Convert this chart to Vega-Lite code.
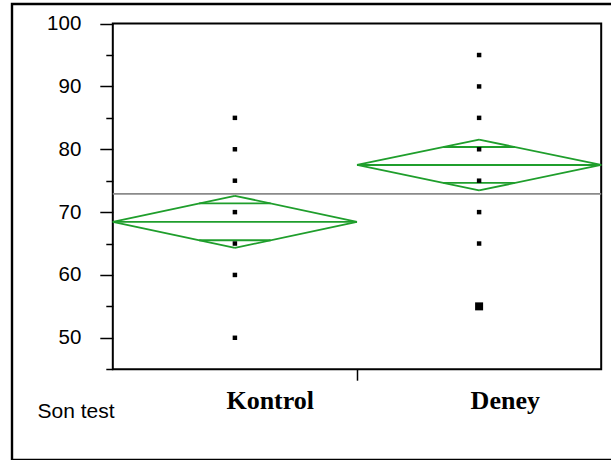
{
  "$schema": "https://vega.github.io/schema/vega-lite/v6.json",
  "width": 603,
  "height": 456,
  "autosize": {"type": "none"},
  "padding": {"left": 12, "top": 4, "right": 0, "bottom": 0},
  "background": "white",
  "config": {
    "view": {"stroke": "black", "strokeWidth": 2.4},
    "axis": {"grid": false, "domain": false}
  },
  "datasets": {
    "obs": [
      {"grup": "Kontrol", "gi": 1, "skor": 85, "n": 1},
      {"grup": "Kontrol", "gi": 1, "skor": 80, "n": 1},
      {"grup": "Kontrol", "gi": 1, "skor": 75, "n": 1},
      {"grup": "Kontrol", "gi": 1, "skor": 70, "n": 1},
      {"grup": "Kontrol", "gi": 1, "skor": 65, "n": 1},
      {"grup": "Kontrol", "gi": 1, "skor": 60, "n": 1},
      {"grup": "Kontrol", "gi": 1, "skor": 50, "n": 1},
      {"grup": "Deney", "gi": 2, "skor": 95, "n": 1},
      {"grup": "Deney", "gi": 2, "skor": 90, "n": 1},
      {"grup": "Deney", "gi": 2, "skor": 85, "n": 1},
      {"grup": "Deney", "gi": 2, "skor": 80, "n": 1},
      {"grup": "Deney", "gi": 2, "skor": 75, "n": 1},
      {"grup": "Deney", "gi": 2, "skor": 70, "n": 1},
      {"grup": "Deney", "gi": 2, "skor": 65, "n": 1},
      {"grup": "Deney", "gi": 2, "skor": 55, "n": 2}
    ],
    "seg": [
      {"grup": "Kontrol", "parca": "sol-ust", "xa": 0.5, "ya": 68.45, "xb": 1.0, "yb": 72.6},
      {"grup": "Kontrol", "parca": "sag-ust", "xa": 1.0, "ya": 72.6, "xb": 1.5, "yb": 68.45},
      {"grup": "Kontrol", "parca": "sag-alt", "xa": 1.5, "ya": 68.45, "xb": 1.0, "yb": 64.3},
      {"grup": "Kontrol", "parca": "sol-alt", "xa": 1.0, "ya": 64.3, "xb": 0.5, "yb": 68.45},
      {"grup": "Kontrol", "parca": "ortalama", "xa": 0.5, "ya": 68.45, "xb": 1.5, "yb": 68.45},
      {"grup": "Kontrol", "parca": "ust-cakisma", "xa": 0.8536, "ya": 71.38, "xb": 1.1464, "yb": 71.38},
      {"grup": "Kontrol", "parca": "alt-cakisma", "xa": 0.8536, "ya": 65.52, "xb": 1.1464, "yb": 65.52},
      {"grup": "Deney", "parca": "sol-ust", "xa": 1.5, "ya": 77.5, "xb": 2.0, "yb": 81.55},
      {"grup": "Deney", "parca": "sag-ust", "xa": 2.0, "ya": 81.55, "xb": 2.5, "yb": 77.5},
      {"grup": "Deney", "parca": "sag-alt", "xa": 2.5, "ya": 77.5, "xb": 2.0, "yb": 73.45},
      {"grup": "Deney", "parca": "sol-alt", "xa": 2.0, "ya": 73.45, "xb": 1.5, "yb": 77.5},
      {"grup": "Deney", "parca": "ortalama", "xa": 1.5, "ya": 77.5, "xb": 2.5, "yb": 77.5},
      {"grup": "Deney", "parca": "ust-cakisma", "xa": 1.8536, "ya": 80.36, "xb": 2.1464, "yb": 80.36},
      {"grup": "Deney", "parca": "alt-cakisma", "xa": 1.8536, "ya": 74.64, "xb": 2.1464, "yb": 74.64}
    ],
    "genel": [{"xa": 0.5, "xb": 2.5, "ya": 72.9}],
    "cerceve": [{"xa": 0.5, "xb": 2.5, "ya": 45, "yb": 100}]
  },
  "layer": [
    {
      "data": {"name": "cerceve"},
      "mark": {"type": "rect", "fill": null, "fillOpacity": 0, "stroke": "black", "strokeWidth": 2},
      "encoding": {
        "x": {
          "field": "xa", "type": "quantitative",
          "scale": {"domain": [0.0872, 2.5565], "nice": false, "zero": false},
          "axis": {
            "values": [1, 1.5, 2],
            "labelExpr": "datum.value == 1 ? 'Kontrol' : (datum.value == 2 ? 'Deney' : '')",
            "tickOpacity": {"condition": {"test": "datum.value == 1.5", "value": 1}, "value": 0},
            "tickSize": 11,
            "tickWidth": 1.5,
            "tickColor": "black",
            "offset": -90.8,
            "labelAlign": "left",
            "labelOffset": -9,
            "labelBaseline": "alphabetic",
            "labelPadding": 28,
            "labelFont": "Liberation Serif",
            "labelFontWeight": "bold",
            "labelFontSize": 26,
            "labelColor": "black",
            "labelFlush": false,
            "labelOverlap": false,
            "title": "Son test",
            "titleFont": "Liberation Sans",
            "titleFontWeight": "normal",
            "titleFontSize": 21,
            "titleColor": "black",
            "titleAlign": "left",
            "titleBaseline": "alphabetic",
            "titleX": 25,
            "titleY": 48
          }
        },
        "x2": {"field": "xb"},
        "y": {
          "field": "ya", "type": "quantitative",
          "scale": {"domain": [30.55, 103.12], "nice": false, "zero": false},
          "axis": {
            "values": [45, 50, 55, 60, 65, 70, 75, 80, 85, 90, 95, 100],
            "labelExpr": "datum.value % 10 === 0 ? datum.label : ''",
            "tickSize": {"condition": {"test": "datum.value % 10 === 0", "value": 13}, "value": 7},
            "tickWidth": 1.5,
            "tickColor": "black",
            "offset": -100.8,
            "labelPadding": 19,
            "labelFont": "Liberation Sans",
            "labelFontSize": 20.5,
            "labelColor": "black",
            "labelFlush": false,
            "labelOverlap": false,
            "title": null
          }
        },
        "y2": {"field": "yb"}
      }
    },
    {
      "data": {"name": "genel"},
      "mark": {"type": "rule", "color": "#8a8a8a", "strokeWidth": 1.6},
      "encoding": {
        "x": {"field": "xa", "type": "quantitative"},
        "x2": {"field": "xb"},
        "y": {"field": "ya", "type": "quantitative"}
      }
    },
    {
      "data": {"name": "seg"},
      "mark": {"type": "rule", "color": "#1f9e2c", "strokeWidth": 1.8},
      "encoding": {
        "x": {"field": "xa", "type": "quantitative"},
        "x2": {"field": "xb"},
        "y": {"field": "ya", "type": "quantitative"},
        "y2": {"field": "yb"}
      }
    },
    {
      "data": {"name": "obs"},
      "mark": {"type": "square", "filled": true, "color": "black", "opacity": 1},
      "encoding": {
        "x": {"field": "gi", "type": "quantitative"},
        "y": {"field": "skor", "type": "quantitative"},
        "size": {"field": "n", "type": "quantitative", "scale": {"domain": [1, 2], "range": [20, 64]}, "legend": null}
      }
    }
  ]
}
